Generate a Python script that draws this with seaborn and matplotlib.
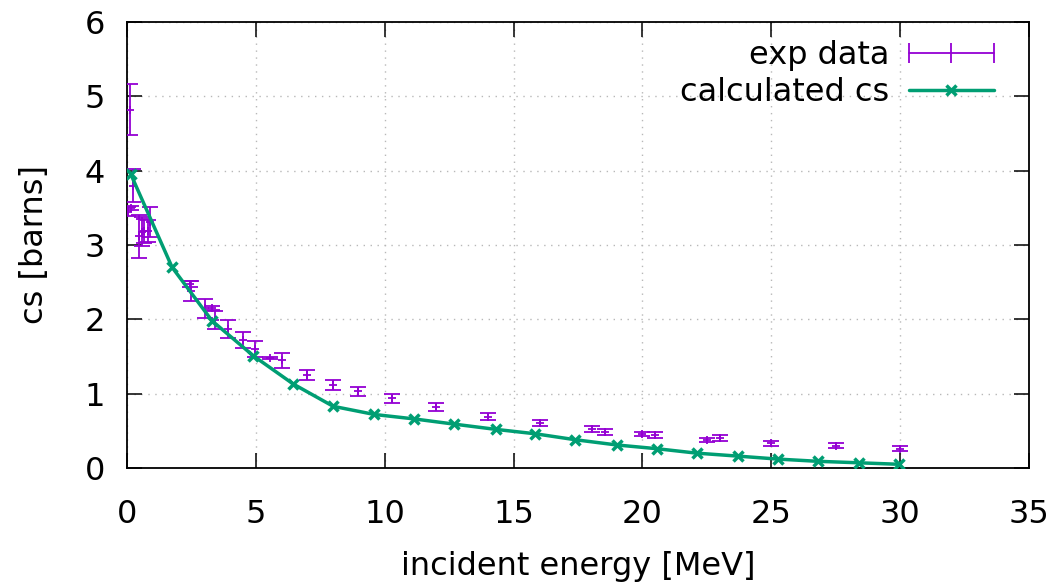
import numpy as np
import pandas as pd
import matplotlib
matplotlib.use("Agg")
import matplotlib.pyplot as plt
import seaborn as sns
from matplotlib.lines import Line2D
from matplotlib.legend_handler import HandlerLine2D

# experimental points: energy [MeV], cross section [barns], error
exp_e = [0.10, 0.25, 0.05, 0.15, 0.47, 0.57, 0.67, 0.80, 0.89,
         2.44, 2.50, 3.03, 3.29, 3.41, 3.93, 4.51, 4.97, 5.55, 6.0,
         7.0, 8.0, 8.98, 10.27, 12.0, 14.02, 16.03, 18.03, 18.55,
         19.97, 20.49, 22.5, 23.0, 25.0, 27.5, 30.0]
exp_cs = [4.82, 3.80, 3.45, 3.50, 3.12, 3.18, 3.19, 3.19, 3.31,
          2.47, 2.38, 2.15, 2.15, 1.99, 1.87, 1.72, 1.60, 1.48, 1.45,
          1.25, 1.12, 1.03, 0.94, 0.82, 0.69, 0.60, 0.52, 0.48,
          0.46, 0.44, 0.38, 0.40, 0.33, 0.30, 0.26]
exp_err = [0.34, 0.22, 0.06, 0.03, 0.29, 0.20, 0.16, 0.15, 0.20,
           0.04, 0.14, 0.13, 0.03, 0.12, 0.12, 0.11, 0.11, 0.02, 0.10,
           0.07, 0.07, 0.06, 0.06, 0.05, 0.05, 0.04, 0.04, 0.04,
           0.03, 0.04, 0.03, 0.04, 0.03, 0.035, 0.03]

# calculated cross section
calc_e = [0.15, 1.75, 3.3, 4.9, 6.45, 8.0, 9.6, 11.15, 12.7, 14.3,
          15.85, 17.4, 19.0, 20.55, 22.1, 23.7, 25.25, 26.8, 28.4, 29.95]
calc_cs = [3.95, 2.70, 1.98, 1.51, 1.13, 0.83, 0.72, 0.66, 0.59, 0.52,
           0.46, 0.38, 0.31, 0.26, 0.20, 0.16, 0.12, 0.09, 0.07, 0.05]

purple = "#9400D3"
green = "#009E73"
fs = 23

sns.set_style("ticks", {"xtick.direction": "in", "ytick.direction": "in",
                        "text.color": "black", "axes.labelcolor": "black",
                        "xtick.color": "black", "ytick.color": "black"})
plt.rcParams["font.family"] = ["DejaVu Sans"]

fig = plt.figure(figsize=(10.53, 5.86), dpi=100)
ax = fig.add_axes([127 / 1053, 1 - 468 / 586, 902 / 1053, 446 / 586])

# experimental data with error bars
ax.errorbar(exp_e, exp_cs, yerr=exp_err, fmt="+", color=purple, ms=6,
            mew=1.3, elinewidth=1.3, capsize=5.5, capthick=1.3, zorder=3)

# calculated curve
calc = pd.DataFrame({"energy": calc_e, "cs": calc_cs})
sns.lineplot(data=calc, x="energy", y="cs", ax=ax, color=green, lw=2.5,
             marker="x", markersize=7, markeredgewidth=2.5,
             markeredgecolor=green, zorder=4)

ax.set_xlim(0, 35)
ax.set_ylim(0, 6)
ax.set_xticks(range(0, 36, 5))
ax.set_yticks(range(0, 7))
ax.grid(True, color="#b8b8b8", linestyle=(0, (1, 4)), linewidth=1.0)

for s in ax.spines.values():
    s.set_visible(True)
    s.set_color("black")
    s.set_linewidth(1.3)
ax.tick_params(axis="both", which="major", length=11, width=1.1,
               labelsize=fs, top=True, right=True, colors="black")
ax.tick_params(axis="x", pad=22)
ax.tick_params(axis="y", pad=16)

ax.set_xlabel("incident energy [MeV]", fontsize=fs, color="black")
ax.set_ylabel("cs [barns]", fontsize=fs, color="black")
ax.xaxis.set_label_coords(0.5, (468 - 566) / 446)
ax.xaxis.label.set_verticalalignment("center")
ax.yaxis.set_label_coords((35 - 127) / 902, 0.5)
ax.yaxis.label.set_verticalalignment("center")

# gnuplot-like legend: text on the left, sample on the right
exp_handle = Line2D([], [], color=purple, lw=1.3, marker="|", ms=14, mew=1.3)
calc_handle = Line2D([], [], color=green, lw=2.5, marker="x", ms=7, mew=2.5)
leg = ax.legend([exp_handle, calc_handle], ["exp data", "calculated cs"],
                loc="upper right", bbox_to_anchor=(0.989, 1.017),
                frameon=False, fontsize=fs, markerfirst=False,
                handlelength=2.65, handletextpad=0.6, labelspacing=0.18,
                borderpad=0.3,
                handler_map={exp_handle: HandlerLine2D(numpoints=3, marker_pad=0)})
for t in leg.get_texts():
    t.set_color("black")

fig.savefig("out.png", dpi=100)
